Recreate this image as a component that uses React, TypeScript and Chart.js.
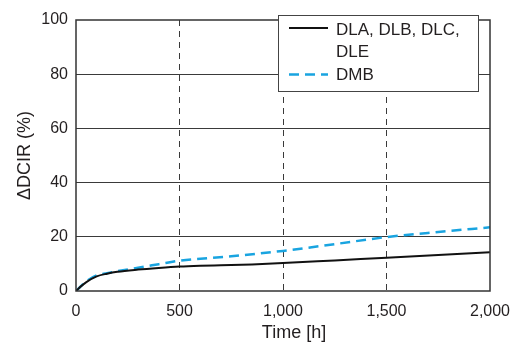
import React, { useEffect, useRef } from "react";
import { Chart, registerables } from "chart.js";

Chart.register(...registerables);

const seriesLabels = ["DLA, DLB, DLC,|DLE", "DMB"];
const blackHours = [0, 25, 50, 100, 150, 200, 300, 400, 500, 600, 700, 850, 1000, 1250, 1500, 1750, 2000];
const blackValues = [0, 1.8, 3.3, 5.4, 6.4, 7.1, 7.9, 8.5, 9.0, 9.3, 9.5, 9.8, 10.3, 11.3, 12.3, 13.3, 14.3];
const blueHours = [0, 25, 50, 100, 150, 200, 300, 400, 500, 750, 1000, 1250, 1500, 1750, 2000];
const blueValues = [0, 1.9, 3.6, 5.8, 6.6, 7.3, 8.6, 9.9, 11.2, 12.8, 14.8, 17.3, 19.9, 21.8, 23.5];
const xTitle = "Time [h]";
const yTitle = "ΔDCIR (%)";

const FONT = "'Liberation Sans', Arial, sans-serif";
const BLUE = "#19a4e0";
const TEXT = "#231f20";

const boxPlugin = {
  id: "boxAndLegend",
  afterDraw(chart: any) {
    const { ctx, chartArea } = chart;
    const { left, top, right, bottom } = chartArea;
    ctx.save();
    ctx.strokeStyle = "#333";
    ctx.lineWidth = 1.5;
    ctx.strokeRect(left, top, right - left, bottom - top);

    // x-axis title (sits slightly right of the axis centre in the original)
    ctx.font = `18px ${FONT}`;
    ctx.fillStyle = TEXT;
    ctx.textAlign = "center";
    ctx.textBaseline = "middle";
    ctx.fillText(xTitle, (left + right) / 2 + 11, bottom + 42);

    // legend
    const lx = right - 212;
    const ly = top - 5;
    const lw = 200;
    const lh = 76;
    ctx.fillStyle = "#fff";
    ctx.fillRect(lx, ly, lw, lh);
    ctx.strokeStyle = "#444";
    ctx.lineWidth = 1;
    ctx.strokeRect(lx + 0.5, ly + 0.5, lw, lh);

    ctx.font = `17px ${FONT}`;
    ctx.fillStyle = TEXT;
    ctx.textBaseline = "middle";
    ctx.textAlign = "left";
    const sx1 = lx + 11;
    const sx2 = lx + 50;
    const tx = lx + 58;

    ctx.strokeStyle = "#111";
    ctx.lineWidth = 2;
    ctx.setLineDash([]);
    ctx.beginPath();
    ctx.moveTo(sx1, ly + 13);
    ctx.lineTo(sx2, ly + 13);
    ctx.stroke();
    const lines = seriesLabels[0].split("|");
    ctx.fillText(lines[0], tx, ly + 15.5);
    ctx.fillText(lines[1], tx, ly + 37);

    ctx.strokeStyle = BLUE;
    ctx.lineWidth = 2.5;
    ctx.setLineDash([10, 6]);
    ctx.beginPath();
    ctx.moveTo(sx1, ly + 59.5);
    ctx.lineTo(sx2, ly + 59.5);
    ctx.stroke();
    ctx.setLineDash([]);
    ctx.fillText(seriesLabels[1], tx, ly + 60.5);
    ctx.restore();
  },
};

export default function App() {
  const ref = useRef<HTMLCanvasElement>(null);
  useEffect(() => {
    const chart = new Chart(ref.current!, {
      type: "line",
      data: {
        datasets: [
          {
            label: seriesLabels[0],
            data: blackHours.map((h, i) => ({ x: h, y: blackValues[i] })),
            borderColor: "#111",
            borderWidth: 2,
            pointRadius: 0,
            cubicInterpolationMode: "monotone",
          },
          {
            label: seriesLabels[1],
            data: blueHours.map((h, i) => ({ x: h, y: blueValues[i] })),
            borderColor: BLUE,
            borderWidth: 2.5,
            borderDash: [10, 6],
            pointRadius: 0,
            cubicInterpolationMode: "monotone",
          },
        ],
      },
      options: {
        animation: false,
        responsive: false,
        layout: { padding: { top: 20, right: 24, left: 0, bottom: 0 } },
        plugins: { legend: { display: false }, tooltip: { enabled: false } },
        scales: {
          x: {
            type: "linear",
            min: 0,
            max: 2000,
            afterFit: (s: any) => {
              s.height = 53;
              s.paddingLeft = 0;
              s.paddingRight = 0;
            },
            ticks: {
              stepSize: 500,
              color: TEXT,
              font: { family: FONT, size: 16 },
              padding: 11,
              maxRotation: 0,
              callback: (v: any) => Number(v).toLocaleString("en-US"),
            },
            grid: {
              drawTicks: false,
              color: (c: any) => (c.tick && (c.tick.value === 0 || c.tick.value === 2000) ? "rgba(0,0,0,0)" : "#3a3a3a"),
              lineWidth: 1,
            },
            border: { display: false, dash: [6, 5] },
            title: { display: false, text: xTitle },
          },
          y: {
            min: 0,
            max: 100,
            afterFit: (s: any) => {
              s.width = 76;
              s.paddingTop = 0;
              s.paddingBottom = 0;
            },
            ticks: { stepSize: 20, color: TEXT, font: { family: FONT, size: 16 }, padding: 8 },
            grid: {
              drawTicks: false,
              color: (c: any) => (c.tick && (c.tick.value === 0 || c.tick.value === 100) ? "rgba(0,0,0,0)" : "#3a3a3a"),
              lineWidth: 1,
            },
            border: { display: false },
            title: { display: true, text: yTitle, color: TEXT, font: { family: FONT, size: 18 }, padding: { top: 14, bottom: 0 } },
          },
        },
      },
      plugins: [boxPlugin],
    } as any);
    return () => chart.destroy();
  }, []);
  return (
    <div style={{ position: "fixed", left: 0, top: 0, width: 514, height: 344, background: "#fff" }}>
      <canvas ref={ref} width={514} height={344} />
    </div>
  );
}
